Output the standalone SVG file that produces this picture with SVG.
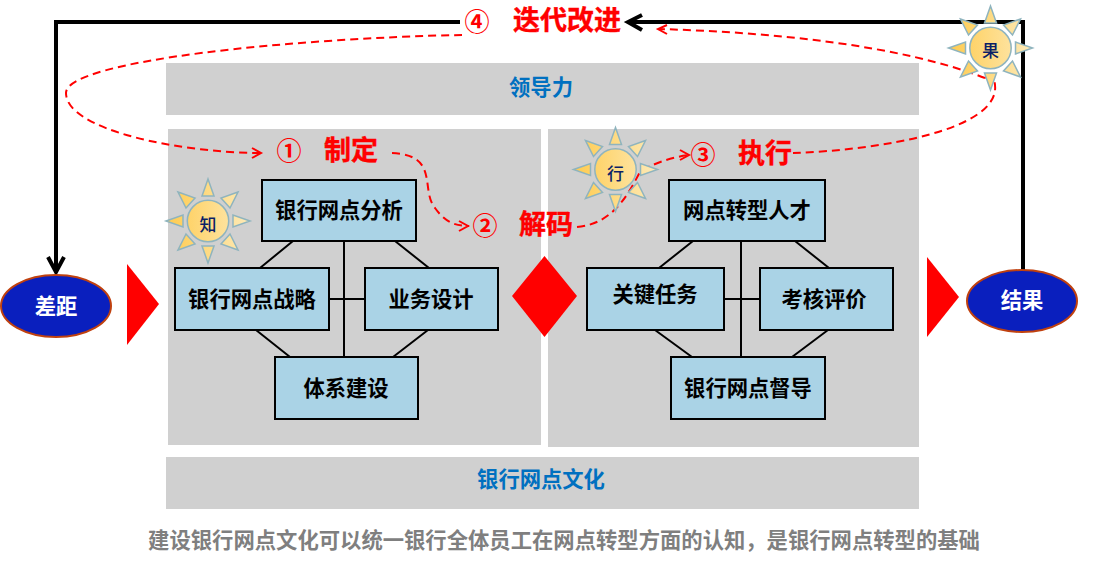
<svg xmlns="http://www.w3.org/2000/svg" width="1105" height="576" viewBox="0 0 1105 576">
<style>
text{font-family:"Noto Sans CJK SC","Liberation Sans",sans-serif;text-anchor:middle;font-weight:700}
.band{fill:#d0d0d0}
.box{fill:#aad3e6;stroke:#000;stroke-width:2}
.t{font-size:21.3px;fill:#000}
.blue{font-size:21.3px;fill:#0070c0}
.red{font-size:27px;fill:#f00;stroke:#f00;stroke-width:.4}
.num{font-size:25px;fill:#f00}
.el{fill:#0a1fbe;stroke:#c0410f;stroke-width:2}
.w{font-size:21.3px;fill:#fff}
.sun{font-size:17px;fill:#0b1f66;font-weight:500}
.tri{fill:#f00}
.link{stroke:#000;stroke-width:2;fill:none}
.heavy{stroke:#000;stroke-width:4;fill:none}
.dash{stroke:#f00;stroke-width:2;fill:none;stroke-dasharray:8 5}
.ah{stroke:#f00;stroke-width:2;fill:none}
.ahb{stroke:#000;stroke-width:4;fill:none}
</style>
<defs>
<linearGradient id="gu" gradientUnits="userSpaceOnUse" x1="-42" x2="42" y1="0" y2="0"><stop offset="0" stop-color="#ffcb4e"/><stop offset="1" stop-color="#fdeab8"/></linearGradient>
<g id="rays" fill="url(#gu)" stroke="#8fb4be" stroke-width="1.5">
<path d="M0-42L6-25H-6Z"/><path d="M0 42L6 25H-6Z"/><path d="M-42 0L-25-6V6Z"/><path d="M42 0L25-6V6Z"/>
<path d="M-30-29L-13-23L-22-13Z"/><path d="M30-29L13-23L22-13Z"/><path d="M-30 29L-13 23L-22 13Z"/><path d="M30 29L13 23L22 13Z"/>
<circle r="20.7"/>
</g>
</defs>

<g id="bands">
<rect class="band" x="166" y="63" width="753" height="52"/>
<rect class="band" x="168" y="129" width="373" height="316"/>
<rect class="band" x="548" y="129" width="371" height="318"/>
<rect class="band" x="166" y="457" width="753" height="52"/>
<text class="blue" x="541" y="95">领导力</text>
<text class="blue" x="541" y="487">银行网点文化</text>
</g>

<g id="connectors">
<path class="link" d="M344 241V357M329 299H365M293 241L260 268M395 241L429 268M256 330L290 357M428 330L393 357"/>
<path class="link" d="M741 241V357M724 299H760M693 241L659 268M795 241L829 268M655 330L692 357M828 330L792 357"/>
<path class="heavy" d="M460 22H56V272"/>
<path class="ahb" d="M48 257L56 272L64 257"/>
<path class="heavy" d="M1023 270V22H628"/>
<path class="ahb" d="M642 15L628 22L642 30"/>
<path class="dash" d="M462 35C300 38 66 60 66 93C66 130 180 153 262 153"/>
<path class="ah" d="M252 148L261 153L252 158"/>
<path class="dash" d="M392 153C440 155 420 190 435 208C445 222 455 226 469 226"/>
<path class="ah" d="M459 221L468 226L459 231"/>
<path class="dash" d="M577 227C615 224 630 190 640 172C650 165 670 157 690 155"/>
<path class="ah" d="M680 150L689 155L680 160"/>
<path class="dash" d="M793 153C880 150 1000 130 995 85C995 80 990 75 985 78"/>
<path class="dash" d="M985 78C900 45 770 32 658 29"/>
<path class="ah" d="M667 25L658 29L667 34"/>
</g>

<g id="n-zhi" transform="translate(208 221)"><use href="#rays"/><text class="sun" y="10">知</text></g>
<g id="n-xing" transform="translate(615.5 169.5)"><use href="#rays"/><text class="sun" y="10">行</text></g>
<g id="n-guo" transform="translate(990.5 48)"><use href="#rays"/><text class="sun" y="9">果</text></g>

<g id="n1"><rect class="box" x="262" y="180" width="154" height="61"/><text class="t" x="339" y="218">银行网点分析</text></g>
<g id="n2"><rect class="box" x="175" y="268" width="154" height="62"/><text class="t" x="252" y="307">银行网点战略</text></g>
<g id="n3"><rect class="box" x="365" y="268" width="133" height="62"/><text class="t" x="431" y="307">业务设计</text></g>
<g id="n4"><rect class="box" x="275" y="357" width="143" height="62"/><text class="t" x="346" y="396">体系建设</text></g>
<g id="n5"><rect class="box" x="669" y="180" width="156" height="61"/><text class="t" x="747" y="218">网点转型人才</text></g>
<g id="n6"><rect class="box" x="587" y="268" width="137" height="62"/><text class="t" x="655" y="302">关键任务</text></g>
<g id="n7"><rect class="box" x="760" y="268" width="133" height="62"/><text class="t" x="824" y="307">考核评价</text></g>
<g id="n8"><rect class="box" x="671" y="357" width="154" height="62"/><text class="t" x="748" y="396">银行网点督导</text></g>

<g id="gap"><ellipse class="el" cx="56" cy="306" rx="55" ry="31"/><text class="w" x="56" y="314">差距</text></g>
<g id="result"><ellipse class="el" cx="1022" cy="301" rx="55" ry="31"/><text class="w" x="1022" y="308">结果</text></g>

<g id="markers">
<path class="tri" d="M127 264L159 304L127 345Z"/>
<path class="tri" d="M927 257L959 297L927 337Z"/>
<path class="tri" d="M544.5 256L577 296L544.5 337L512 296Z"/>
</g>

<g id="s4"><text class="num" x="477" y="31">④</text><text class="red" x="567" y="30">迭代改进</text></g>
<g id="s1"><text class="num" x="289" y="160">①</text><text class="red" x="351" y="160">制定</text></g>
<g id="s2"><text class="num" x="485" y="235">②</text><text class="red" x="546" y="234">解码</text></g>
<g id="s3"><text class="num" x="703" y="164">③</text><text class="red" x="765" y="163">执行</text></g>

<text x="564" y="548" style="font-size:21.33px;fill:#7f7f7f">建设银行网点文化可以统一银行全体员工在网点转型方面的认知，是银行网点转型的基础</text>
</svg>
